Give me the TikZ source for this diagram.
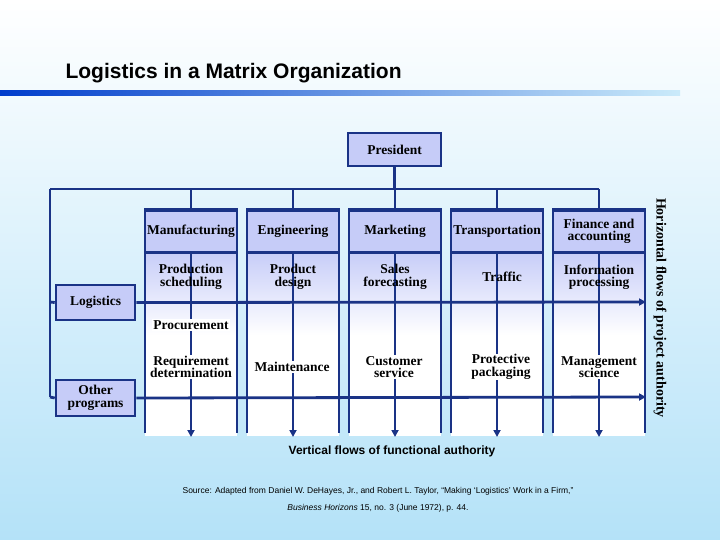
\documentclass[tikz,border=0pt]{standalone}
\usepackage{fontspec}
\setmainfont{Liberation Serif}
\setsansfont{Liberation Sans}
\usetikzlibrary{arrows.meta}
\definecolor{dk}{HTML}{1A3386}
\definecolor{peri}{HTML}{C6CCF8}
\definecolor{bgb}{HTML}{B4E2F8}
\begin{document}
\begin{tikzpicture}[x=1pt,y=-1pt,
  box/.style={draw=dk,line width=2.6pt,fill=peri,font=\bfseries\fontsize{13.5}{12.5}\selectfont,align=center,inner sep=0pt},
  ln/.style={draw=dk,line width=2.8pt},
  arr/.style={ln,-{Triangle[width=7pt,length=7pt]}},
  lbl/.style={font=\bfseries\fontsize{13.5}{12.5}\selectfont,align=center,inner sep=1pt},
  wl/.style={lbl,fill=white}]
\useasboundingbox (0,0) rectangle (720,540);
\shade[top color=white,bottom color=bgb] (0,0) rectangle (720,540);
\node[anchor=west,font=\sffamily\bfseries\fontsize{21}{24}\selectfont,text=black] (title) at (62,73) {Logistics in a Matrix Organization};
\shade[left color=blue!70!cyan!80!black,right color=bgb!70] (0,91) rectangle (680,96);
% President
\node[box,minimum width=93pt,minimum height=33pt] (pres) at (394.5,149.5) {President};
\coordinate (hl) at (50,189); \coordinate (hr) at (599,189);
\draw[ln] (pres.south) -- (394.5,189);
\draw[ln] (hl) -- (hr);
% left spine
\coordinate (lb) at (50,397);
\draw[ln] (hl) -- (lb);
\node[box,minimum width=79pt,minimum height=35pt] (log) at (95.5,302.5) {Logistics};
\node[box,minimum width=79pt,minimum height=36pt] (oth) at (95.5,398) {Other\\programs};
\draw[ln] (50,302) -- (log.west);
\draw[ln] (lb) -- (oth.west);
% columns
\foreach \n/\c in {m/191,e/293,k/395,t/497,f/599}{
  \shade[top color=peri,bottom color=white] (\c-46,251) rectangle (\c+46,335);
  \fill[white] (\c-46,335) rectangle (\c+46,436);
  \draw[ln] (\c-46,433) -- (\c-46,209) -- (\c+46,209) -- (\c+46,433);
  \node[box,minimum width=92pt,minimum height=42pt,anchor=north] (\n) at (\c,209) {};
  \draw[ln] (\c,189) -- (\n.north);
  \coordinate (\n b) at (\c,437);
  \draw[arr] (\n.south) -- (\n b);
}
\node[lbl] at (m) {Manufacturing};
\node[lbl] at (e) {Engineering};
\node[lbl] at (k) {Marketing};
\node[lbl] at (t) {Transportation};
\node[lbl] at (f) {Finance and\\accounting};
% flows
\coordinate (r1) at (646,302); \coordinate (r2) at (646,397);
\draw[arr] (log.east) -- (r1);
\draw[arr] (oth.east) -- (r2);
% row 2
\node[lbl] at (191,277) {Production\\scheduling};
\node[lbl] at (293,277) {Product\\design};
\node[lbl] at (395,277) {Sales\\forecasting};
\node[lbl] at (502,277) {Traffic};
\node[lbl] at (599,277) {Information\\processing};
\node[wl] at (191,325) {Procurement};
\node[wl] at (191,367) {Requirement\\determination};
\node[wl] at (292,367) {Maintenance};
\node[wl] at (394,367) {Customer\\service};
\node[wl] at (501,367) {Protective\\packaging};
\node[wl] at (599,367) {Management\\science};
\node[rotate=-90,font=\bfseries\fontsize{14}{14}\selectfont] at (660,308) {Horizontal flows of project authority};
\node[font=\sffamily\bfseries\fontsize{12}{14}\selectfont] at (392,451) {Vertical flows of functional authority};
\node[font=\sffamily\fontsize{8.5}{10}\selectfont] at (378,491) {Source: Adapted from Daniel W. DeHayes, Jr., and Robert L. Taylor, ``Making `Logistics' Work in a Firm,''};
\node[font=\sffamily\fontsize{8.5}{10}\selectfont] at (378,508) {\textit{Business Horizons} 15, no. 3 (June 1972), p. 44.};
\end{tikzpicture}
\end{document}
